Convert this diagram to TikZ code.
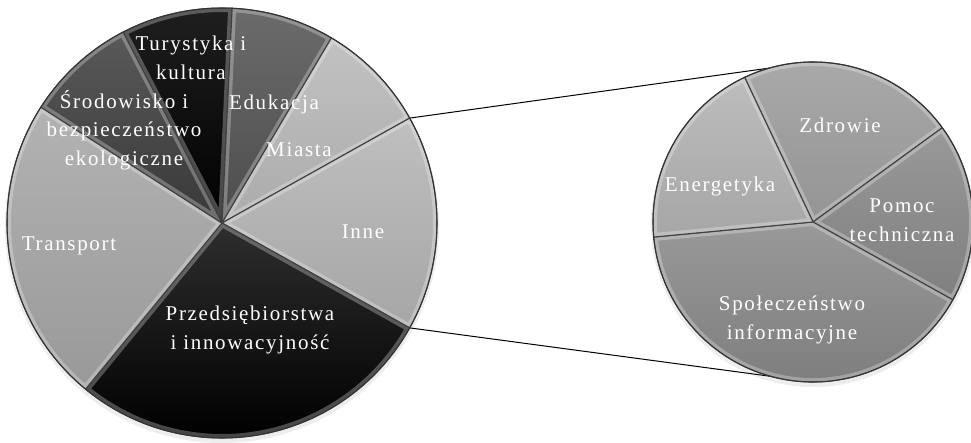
\documentclass[tikz,border=0pt]{standalone}
\usepackage{fontspec}
\setmainfont{Liberation Serif}[LetterSpace=8]
\usetikzlibrary{calc}
\newcommand\slicepath[4]{(#1) -- ++(#3:#2) arc[start angle=#3, end angle=#4, radius=#2] -- cycle}
\newcommand\myslice[5]{%
  \path[#5] \slicepath{#1}{#2}{#3}{#4};
  \begin{scope}
    \clip \slicepath{#1}{#2}{#3}{#4};
    \draw[bevel] \slicepath{#1}{#2}{#3}{#4};
  \end{scope}
  \draw[sl] \slicepath{#1}{#2}{#3}{#4};}
\begin{document}
\begin{tikzpicture}[x=1pt,y=1pt]
\useasboundingbox (0,0) rectangle (971,442);
\tikzset{
  lbl/.style={text=white, font=\fontsize{21}{28.5}\selectfont, align=center, inner sep=0pt},
  sl/.style={draw=black!75, line width=1.1pt, line join=round},
  bevel/.style={draw=white, draw opacity=0.28, line width=8pt, line join=round},
  conn/.style={draw=black, line width=1pt},
  rim/.style={draw=black!80, line width=1pt},
  shadowc/.style={fill=black, fill opacity=0.07},
}
\coordinate (L) at (222,219);
\coordinate (R) at (813,220);
\def\Lr{215}
\def\Rr{160}
% connectors
\coordinate (innetop) at ($(L)+(29.2:\Lr)$);
\coordinate (innebot) at ($(L)+(-29.2:\Lr)$);
\coordinate (rtop) at ($(R)+(0,\Rr)$);
\coordinate (rbot) at ($(R)+(0,-\Rr)$);
\draw[conn] (innetop) -- (rtop);
\draw[conn] (innebot) -- (rbot);
% soft shadows
\fill[shadowc] ($(L)+(0,-3)$) circle[radius=217];
\fill[shadowc] ($(R)+(0,-3)$) circle[radius=162];
% left pie
\myslice{L}{\Lr}{117.4}{87.3}{top color=black!88, bottom color=black}
\myslice{L}{\Lr}{87.3}{59.4}{top color=black!58, bottom color=black!70}
\myslice{L}{\Lr}{59.4}{29.2}{top color=black!24, bottom color=black!33}
\myslice{L}{\Lr}{29.2}{-29.2}{top color=black!25, bottom color=black!35}
\myslice{L}{\Lr}{-29.2}{-129.4}{top color=black!82, bottom color=black}
\myslice{L}{\Lr}{230.6}{147.4}{top color=black!30, bottom color=black!40}
\myslice{L}{\Lr}{147.4}{117.4}{top color=black!65, bottom color=black!78}
\draw[rim] (L) circle[radius=\Lr];
% right pie
\myslice{R}{\Rr}{115.3}{36.1}{top color=black!33, bottom color=black!42}
\myslice{R}{\Rr}{36.1}{-29.1}{top color=black!40, bottom color=black!50}
\myslice{R}{\Rr}{-29.1}{-174.6}{top color=black!40, bottom color=black!52}
\myslice{R}{\Rr}{185.4}{115.3}{top color=black!26, bottom color=black!35}
\draw[rim] (R) circle[radius=\Rr];
% labels
\node[lbl] (tur) at (191,384) {Turystyka i\\kultura};
\node[lbl] (sro) at (124,312) {Środowisko i\\bezpieczeństwo\\ekologiczne};
\node[lbl] (edu) at (274,338) {Edukacja};
\node[lbl] (mia) at (299,292) {Miasta};
\node[lbl] (inn) at (363,210) {Inne};
\node[lbl] (tra) at (69,196) {Transport};
\node[lbl] (prz) at (250,112) {Przedsiębiorstwa\\i innowacyjność};
\node[lbl] (zdr) at (840,317) {Zdrowie};
\node[lbl] (ene) at (720,256) {Energetyka};
\node[lbl] (pom) at (902,222) {Pomoc\\techniczna};
\node[lbl] (spo) at (792,122) {Społeczeństwo\\informacyjne};
\end{tikzpicture}
\end{document}
